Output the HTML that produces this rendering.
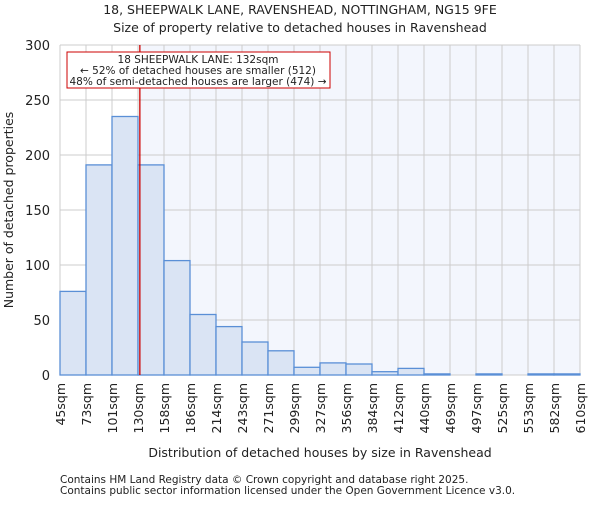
<!DOCTYPE html>
<html><head><meta charset="utf-8"><style>
body{margin:0;background:#fff;font-family:"Liberation Sans","DejaVu Sans",sans-serif;}
svg text{font-family:"DejaVu Sans","Liberation Sans",sans-serif;fill:#222;}
</style></head><body>
<svg id="chart" width="600" height="500" viewBox="0 0 600 500" xmlns="http://www.w3.org/2000/svg">
<text x="300" y="14" text-anchor="middle" font-size="12.5">18, SHEEPWALK LANE, RAVENSHEAD, NOTTINGHAM, NG15 9FE</text>
<text x="300" y="32" text-anchor="middle" font-size="12.5">Size of property relative to detached houses in Ravenshead</text>
<g id="plot"></g>
<text transform="translate(13,210) rotate(-90)" text-anchor="middle" font-size="12.5">Number of detached properties</text>
<text x="320" y="457" text-anchor="middle" font-size="12.5">Distribution of detached houses by size in Ravenshead</text>
<text x="60" y="483" font-size="10.5" fill="#444">Contains HM Land Registry data © Crown copyright and database right 2025.</text>
<text x="60" y="494" font-size="10.5" fill="#444">Contains public sector information licensed under the Open Government Licence v3.0.</text>
</svg>
<script>
const binLabels=["45sqm","73sqm","101sqm","130sqm","158sqm","186sqm","214sqm","243sqm","271sqm","299sqm","327sqm","356sqm","384sqm","412sqm","440sqm","469sqm","497sqm","525sqm","553sqm","582sqm","610sqm"];
const binEdges=[45,73,101,130,158,186,214,243,271,299,327,356,384,412,440,469,497,525,553,582,610];
const counts=[76,191,235,191,104,55,44,30,22,7,11,10,3,6,1,0,1,0,1,1];
const yTicks=[0,50,100,150,200,250,300];
const propertySize=132;
const annotationLines=["18 SHEEPWALK LANE: 132sqm","← 52% of detached houses are smaller (512)","48% of semi-detached houses are larger (474) →"];

const NS="http://www.w3.org/2000/svg";
const g=document.getElementById('plot');
const X0=60,X1=580,Y0=375,Y1=45;
const nb=counts.length;
const xb=i=>X0+(X1-X0)*i/nb;
const xv=v=>{for(let i=0;i<nb;i++){if(v<=binEdges[i+1])return xb(i)+(v-binEdges[i])/(binEdges[i+1]-binEdges[i])*(xb(i+1)-xb(i));}return X1;};
const y=v=>Y0-(Y0-Y1)*v/300;
function mk(t,a){const e=document.createElementNS(NS,t);for(const k in a)e.setAttribute(k,a[k]);g.appendChild(e);return e;}
const mx=xv(propertySize);
let e;
e=mk('rect',{x:X0,y:Y1,width:mx-X0,height:Y0-Y1,fill:'#ffffff'});


e=mk('rect',{x:mx,y:Y1,width:X1-mx,height:Y0-Y1,fill:'#f3f6fd'});


yTicks.forEach(t=>{
 e=mk('line',{x1:X0,x2:X1,y1:y(t),y2:y(t),stroke:'#cccccc','stroke-width':1});
 
 
 e=mk('text',{x:X0-10,y:y(t)+5,'text-anchor':'end','font-size':13});
 e.textContent=t;
 
 
});
for(let i=0;i<=nb;i++){
 e=mk('line',{x1:xb(i),x2:xb(i),y1:Y1,y2:Y0,stroke:'#cccccc','stroke-width':1});
 
 
}
counts.forEach((c,i)=>{
 e=mk('rect',{x:xb(i),y:y(c),width:xb(i+1)-xb(i),height:Y0-y(c),fill:'#dae4f4',stroke:'#5a8fd6','stroke-width':1.3});
 
 
});
binLabels.forEach((l,i)=>{
 const xx=xb(i);
 e=mk('text',{x:0,y:0,'text-anchor':'end','font-size':12.5,transform:`translate(${xx+5},${Y0+8}) rotate(-90)`});
 e.textContent=l;
 
 
});
e=mk('line',{x1:mx,x2:mx,y1:Y1,y2:Y0,stroke:'#cc0000','stroke-width':1.3});


e=mk('rect',{x:67,y:52,width:263,height:36,fill:'#ffffff',stroke:'#cc0000','stroke-width':1});


annotationLines.forEach((l,i)=>{
 e=mk('text',{x:198,y:63+i*11,'text-anchor':'middle','font-size':10.5});
 e.textContent=l;
 
 
});
</script>
</body></html>
